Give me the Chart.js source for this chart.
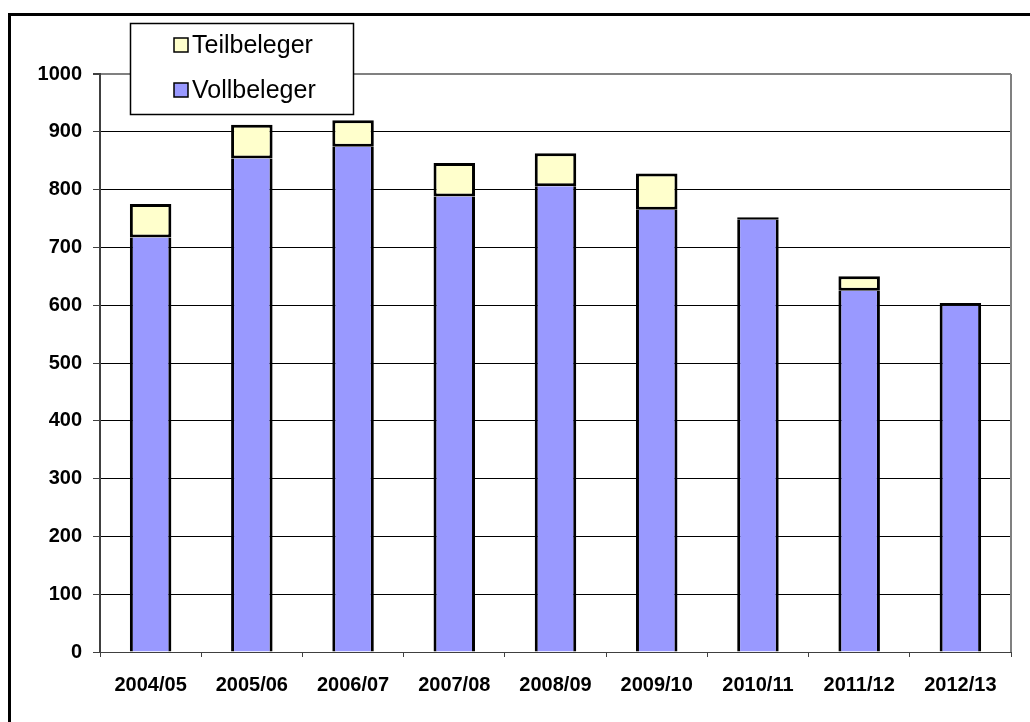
<!DOCTYPE html>
<html>
<head>
<meta charset="utf-8">
<script src="https://cdn.jsdelivr.net/npm/chart.js@4"></script>
<style>
  body { margin: 0; background: #fff; }
  canvas { display: block; }
</style>
</head>
<body>
<canvas id="belegung-chart" width="1030" height="722"></canvas>
<script>
const years = ["2004/05", "2005/06", "2006/07", "2007/08", "2008/09", "2009/10", "2010/11", "2011/12", "2012/13"];
const vollbeleger = [717, 854, 874, 788, 806, 765, 748, 625, 599];
const teilbeleger = [58, 58, 46, 58, 57, 63, 4, 25, 5];
const yTicks = [0, 100, 200, 300, 400, 500, 600, 700, 800, 900, 1000];

const blue = "#9999FF";
const cream = "#FFFFCC";
const fontFamily = "'Liberation Sans', Arial, sans-serif";

// rahmen, hintergrund und legende selbst zeichnen
const framePlugin = {
  id: "frame",
  beforeDraw(chart) {
    const c = chart.ctx;
    c.save();
    c.fillStyle = "#fff";
    c.fillRect(0, 0, chart.width, chart.height);
    c.restore();
  },
  afterDraw(chart) {
    const c = chart.ctx;
    const a = chart.chartArea;
    c.save();
    // rechter rand der zeichenfläche
    c.strokeStyle = "#808080";
    c.lineWidth = 2;
    c.beginPath();
    c.moveTo(a.right, a.top);
    c.lineTo(a.right, a.bottom);
    c.stroke();

    // äußerer rahmen
    c.strokeStyle = "#000";
    c.lineWidth = 3;
    c.strokeRect(9.5, 14.5, 1200, 1000);

    // legende
    c.fillStyle = "#fff";
    c.fillRect(130, 23, 223, 92);
    c.lineWidth = 1.5;
    c.strokeRect(130.5, 23.5, 223, 91);

    const items = [
      { label: "Teilbeleger", color: cream, y: 45 },
      { label: "Vollbeleger", color: blue, y: 90 },
    ];
    c.font = "25px " + fontFamily;
    c.textBaseline = "middle";
    c.textAlign = "left";
    items.forEach(item => {
      c.fillStyle = item.color;
      c.fillRect(174, item.y - 7, 14, 14);
      c.strokeStyle = "#000";
      c.lineWidth = 1.5;
      c.strokeRect(174, item.y - 7, 14, 14);
      c.fillStyle = "#000";
      c.fillText(item.label, 192, item.y + 1);
    });
    c.restore();
  },
};

//daten
let chartData = {
  labels: years,
  datasets: [
    {
      label: "Vollbeleger",
      data: vollbeleger,
      backgroundColor: blue,
      borderColor: "#000",
      borderSkipped: false,
      borderWidth: { top: 0, left: 3, right: 3, bottom: 0 },
      barPercentage: 1,
      categoryPercentage: 0.41,
    },
    {
      label: "Teilbeleger",
      data: teilbeleger,
      backgroundColor: cream,
      borderColor: "#000",
      borderSkipped: false,
      borderWidth: 3,
      barPercentage: 1,
      categoryPercentage: 0.41,
    },
  ],
};

//optionen
let chartOptions = {
  responsive: false,
  devicePixelRatio: 1,
  animation: false,
  layout: {
    padding: { left: 0, top: 74, right: 19, bottom: 0 },
  },
  plugins: {
    legend: { display: false },
    tooltip: { enabled: false },
  },
  scales: {
    x: {
      stacked: true,
      offset: true,
      grid: {
        offset: true,
        drawOnChartArea: false,
        drawTicks: true,
        tickLength: 5,
        color: "#404040",
      },
      border: { color: "#404040", width: 1 },
      ticks: {
        color: "#000",
        padding: 16,
        maxRotation: 0,
        font: { family: fontFamily, size: 20, weight: "bold" },
      },
      afterFit: scale => { scale.height = 70; },
    },
    y: {
      stacked: true,
      min: 0,
      max: 1000,
      afterBuildTicks: scale => { scale.ticks = yTicks.map(v => ({ value: v })); },
      grid: {
        color: ctx => (ctx.tick && ctx.tick.value === 1000 ? "#808080" : "#000"),
        lineWidth: ctx => (ctx.tick && ctx.tick.value === 1000 ? 2 : 1),
        tickLength: 7,
        tickColor: "#404040",
      },
      border: { color: "#404040", width: 2 },
      ticks: {
        color: "#000",
        padding: 11,
        callback: value => String(value),
        font: { family: fontFamily, size: 20, weight: "bold" },
      },
      afterFit: scale => { scale.width = 100; },
    },
  },
};

//chart erzeugen
const belegungChart = new Chart(document.getElementById("belegung-chart").getContext("2d"), {
  type: "bar",
  data: chartData,
  options: chartOptions,
  plugins: [framePlugin],
});
</script>
</body>
</html>
